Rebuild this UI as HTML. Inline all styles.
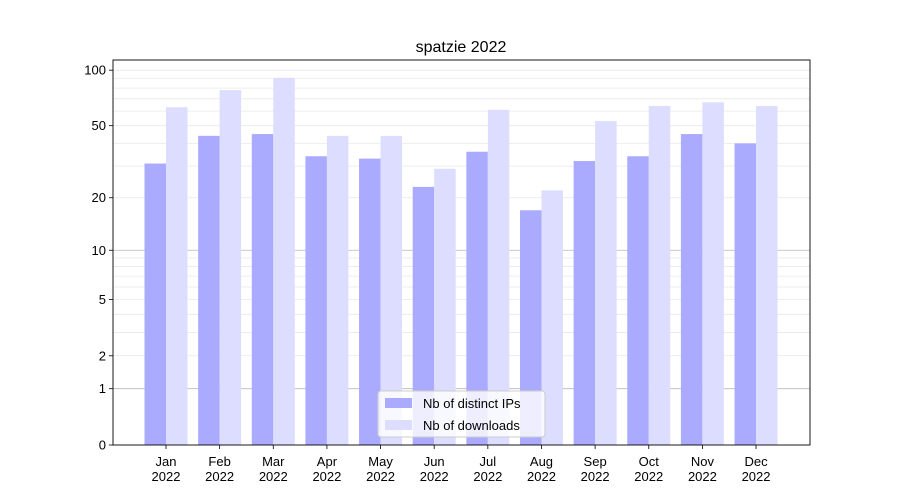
<!DOCTYPE html>
<html><head><meta charset="utf-8"><style>body{margin:0;background:#fff}svg{display:block;font-family:"Liberation Sans","DejaVu Sans",sans-serif}</style></head>
<body>
<svg id="chart" width="900" height="500"></svg>
<script>
const months = ["Jan","Feb","Mar","Apr","May","Jun","Jul","Aug","Sep","Oct","Nov","Dec"];
const ipValues = [31,44,45,34,33,23,36,17,32,34,45,40];
const downloadValues = [63,78,91,44,44,29,61,22,53,64,67,64];
const yTickValues = [0,1,2,5,10,20,50,100];
const yTickLabels = ["0","1","2","5","10","20","50","100"];
const NS="http://www.w3.org/2000/svg";
const svg=document.getElementById('chart');
const L=113,R=810,T=60,B=445,K=187;
function y(v){return B-K*Math.log10(v+1);}
function x(i){return 166+i*53.64;}
function mk(t,a,p){const e=document.createElementNS(NS,t);for(const k in a)e.setAttribute(k,a[k]);(p||svg).appendChild(e);return e;}
// grid
const minors=[];
for(const d of [1,10]) for(let m=2;m<=9;m++) minors.push(d*m);
minors.push(100);
for(const v of minors){const g=mk('line',{x1:L,x2:R,y1:y(v),y2:y(v),stroke:'#e8e8e8','stroke-width':0.8});

}
for(const v of [1,10]){const g=mk('line',{x1:L,x2:R,y1:y(v),y2:y(v),stroke:'#b8b8b8','stroke-width':0.8});

}
const bw=21.5;
months.forEach((m,i)=>{
 const b1=mk('rect',{x:x(i)-bw,y:y(ipValues[i]),width:bw,height:B-y(ipValues[i]),fill:'#aaaaff'});
 
 
 const b2=mk('rect',{x:x(i),y:y(downloadValues[i]),width:bw,height:B-y(downloadValues[i]),fill:'#ddddff'});
 
 
 mk('line',{x1:x(i),x2:x(i),y1:B,y2:B+4,stroke:'#000','stroke-width':0.8});
 const t=mk('text',{x:x(i),y:B+21,'text-anchor':'middle','font-size':13});
 t.textContent=m;
 
 
 const t2=mk('text',{x:x(i),y:B+36,'text-anchor':'middle','font-size':13});
 t2.textContent='2022';
 
 
});
yTickValues.forEach((v,i)=>{
 mk('line',{x1:L-4,x2:L,y1:y(v),y2:y(v),stroke:'#000','stroke-width':0.8});
 const t=mk('text',{x:L-7,y:y(v)+4.5,'text-anchor':'end','font-size':13});
 t.textContent=yTickLabels[i];
 
 
});
const fr=mk('rect',{x:L,y:T,width:R-L,height:B-T,fill:'none',stroke:'#000','stroke-width':0.9});


const title=mk('text',{x:461,y:52,'text-anchor':'middle','font-size':16});
title.textContent='spatzie 2022';


const lg=mk('g',{});


mk('rect',{x:378,y:391,width:167,height:46,rx:3,fill:'#fff','fill-opacity':0.8,stroke:'#ccc'},lg);
mk('rect',{x:385,y:398,width:27,height:10,fill:'#aaaaff'},lg);
mk('rect',{x:385,y:420,width:27,height:10,fill:'#ddddff'},lg);
const l1=mk('text',{x:423,y:408,'font-size':13},lg);l1.textContent='Nb of distinct IPs';


const l2=mk('text',{x:423,y:430,'font-size':13},lg);l2.textContent='Nb of downloads';


</script>
</body></html>
